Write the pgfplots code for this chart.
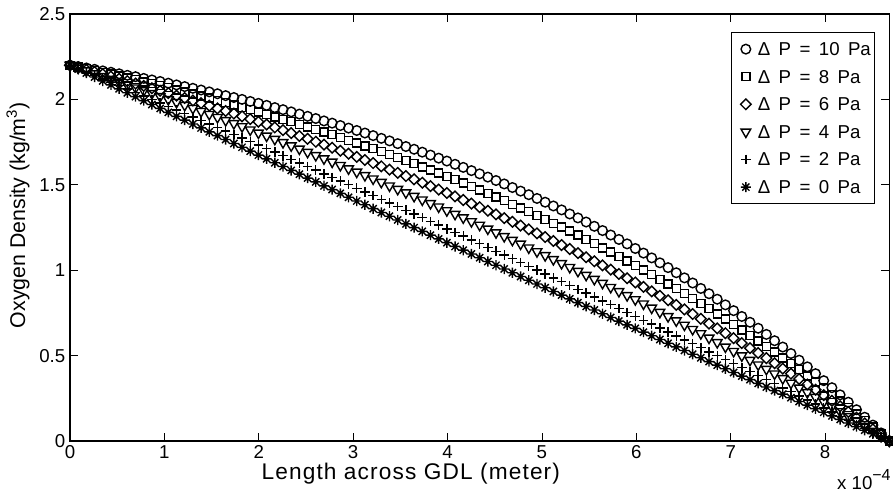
\documentclass[border=0pt]{standalone}
\usepackage{fontspec}
\setmainfont{Liberation Sans}
\usepackage{pgfplots}
\usepackage{pgfplotstable}
\pgfplotsset{compat=1.18}
\pgfdeclareplotmark{mstar}{%
  \pgfpathmoveto{\pgfqpoint{-\pgfplotmarksize}{0pt}}\pgfpathlineto{\pgfqpoint{\pgfplotmarksize}{0pt}}%
  \pgfpathmoveto{\pgfqpoint{0pt}{-\pgfplotmarksize}}\pgfpathlineto{\pgfqpoint{0pt}{\pgfplotmarksize}}%
  \pgfpathmoveto{\pgfqpoint{-.707\pgfplotmarksize}{-.707\pgfplotmarksize}}\pgfpathlineto{\pgfqpoint{.707\pgfplotmarksize}{.707\pgfplotmarksize}}%
  \pgfpathmoveto{\pgfqpoint{-.707\pgfplotmarksize}{.707\pgfplotmarksize}}\pgfpathlineto{\pgfqpoint{.707\pgfplotmarksize}{-.707\pgfplotmarksize}}%
  \pgfusepathqstroke}
\pgfplotstableread{
x c s d t p a
0 2.200 2.200 2.200 2.200 2.200 2.200
0.0868 2.192 2.190 2.187 2.184 2.180 2.177
0.1736 2.184 2.180 2.174 2.168 2.160 2.154
0.2604 2.176 2.169 2.161 2.151 2.140 2.131
0.3472 2.167 2.159 2.148 2.135 2.120 2.108
0.434 2.159 2.148 2.134 2.119 2.100 2.085
0.5208 2.150 2.137 2.121 2.102 2.080 2.062
0.6076 2.141 2.126 2.107 2.085 2.060 2.039
0.6944 2.133 2.115 2.093 2.068 2.040 2.016
0.7812 2.123 2.103 2.079 2.052 2.020 1.993
0.868 2.114 2.092 2.065 2.035 1.999 1.970
0.9548 2.105 2.080 2.051 2.017 1.979 1.947
1.0416 2.095 2.068 2.037 2.000 1.959 1.924
1.1284 2.085 2.056 2.022 1.983 1.938 1.901
1.2152 2.075 2.044 2.008 1.966 1.918 1.879
1.302 2.065 2.032 1.993 1.948 1.897 1.856
1.3888 2.055 2.019 1.978 1.930 1.877 1.833
1.4756 2.044 2.007 1.963 1.913 1.856 1.810
1.5624 2.033 1.994 1.947 1.895 1.836 1.788
1.6492 2.022 1.981 1.932 1.877 1.815 1.765
1.736 2.011 1.967 1.917 1.859 1.794 1.742
1.8228 2.000 1.954 1.901 1.841 1.774 1.720
1.9096 1.988 1.940 1.885 1.822 1.753 1.697
1.9964 1.977 1.926 1.869 1.804 1.732 1.674
2.0832 1.965 1.912 1.853 1.786 1.711 1.652
2.17 1.952 1.898 1.836 1.767 1.691 1.629
2.2568 1.940 1.884 1.820 1.748 1.670 1.607
2.3436 1.927 1.869 1.803 1.729 1.649 1.584
2.4304 1.914 1.854 1.786 1.710 1.628 1.562
2.5172 1.901 1.839 1.769 1.691 1.607 1.539
2.604 1.888 1.824 1.752 1.672 1.586 1.517
2.6908 1.874 1.809 1.735 1.653 1.564 1.494
2.7776 1.861 1.793 1.717 1.634 1.543 1.472
2.8644 1.847 1.777 1.699 1.614 1.522 1.450
2.9512 1.832 1.761 1.682 1.594 1.501 1.427
3.038 1.818 1.745 1.663 1.575 1.480 1.405
3.1248 1.803 1.728 1.645 1.555 1.458 1.383
3.2116 1.788 1.711 1.627 1.535 1.437 1.360
3.2984 1.772 1.694 1.608 1.515 1.415 1.338
3.3852 1.757 1.677 1.589 1.494 1.394 1.316
3.472 1.741 1.659 1.570 1.474 1.372 1.294
3.5588 1.724 1.642 1.551 1.454 1.351 1.271
3.6456 1.708 1.624 1.532 1.433 1.329 1.249
3.7324 1.691 1.605 1.512 1.412 1.308 1.227
3.8192 1.674 1.587 1.492 1.391 1.286 1.205
3.906 1.656 1.568 1.472 1.371 1.264 1.183
3.9928 1.639 1.549 1.452 1.349 1.242 1.161
4.0796 1.620 1.530 1.432 1.328 1.221 1.139
4.1664 1.602 1.510 1.411 1.307 1.199 1.117
4.2532 1.583 1.490 1.390 1.285 1.177 1.095
4.34 1.564 1.470 1.369 1.264 1.155 1.073
4.4268 1.545 1.450 1.348 1.242 1.133 1.051
4.5136 1.525 1.429 1.327 1.220 1.111 1.029
4.6004 1.505 1.408 1.305 1.198 1.089 1.007
4.6872 1.484 1.386 1.283 1.176 1.067 0.985
4.774 1.463 1.365 1.261 1.154 1.045 0.963
4.8608 1.442 1.343 1.239 1.131 1.022 0.941
4.9476 1.420 1.321 1.216 1.109 1.000 0.919
5.0344 1.398 1.298 1.194 1.086 0.978 0.897
5.1212 1.376 1.275 1.171 1.063 0.955 0.875
5.208 1.353 1.252 1.147 1.040 0.933 0.854
5.2948 1.329 1.229 1.124 1.017 0.911 0.832
5.3816 1.306 1.205 1.100 0.994 0.888 0.810
5.4684 1.282 1.181 1.076 0.971 0.866 0.788
5.5552 1.257 1.156 1.052 0.947 0.843 0.767
5.642 1.232 1.131 1.028 0.924 0.820 0.745
5.7288 1.206 1.106 1.003 0.900 0.798 0.723
5.8156 1.180 1.080 0.978 0.876 0.775 0.702
5.9024 1.154 1.054 0.953 0.852 0.752 0.680
5.9892 1.127 1.028 0.928 0.828 0.730 0.659
6.076 1.100 1.001 0.902 0.803 0.707 0.637
6.1628 1.072 0.974 0.876 0.779 0.684 0.616
6.2496 1.043 0.947 0.850 0.754 0.661 0.594
6.3364 1.015 0.919 0.824 0.729 0.638 0.572
6.4232 0.985 0.891 0.797 0.704 0.615 0.551
6.51 0.955 0.862 0.770 0.679 0.592 0.530
6.5968 0.925 0.833 0.743 0.654 0.569 0.508
6.6836 0.893 0.804 0.715 0.629 0.546 0.487
6.7704 0.862 0.774 0.687 0.603 0.522 0.465
6.8572 0.830 0.744 0.659 0.577 0.499 0.444
6.944 0.797 0.713 0.631 0.551 0.476 0.423
7.0308 0.763 0.682 0.602 0.525 0.453 0.401
7.1176 0.729 0.650 0.573 0.499 0.429 0.380
7.2044 0.695 0.618 0.544 0.473 0.406 0.359
7.2912 0.660 0.586 0.515 0.446 0.382 0.337
7.378 0.624 0.553 0.485 0.420 0.359 0.316
7.4648 0.587 0.520 0.455 0.393 0.335 0.295
7.5516 0.550 0.486 0.424 0.366 0.311 0.274
7.6384 0.512 0.452 0.394 0.339 0.288 0.253
7.7252 0.473 0.417 0.363 0.311 0.264 0.231
7.812 0.434 0.381 0.331 0.284 0.240 0.210
7.8988 0.394 0.346 0.300 0.256 0.217 0.189
7.9856 0.353 0.309 0.268 0.229 0.193 0.168
8.0724 0.312 0.273 0.235 0.201 0.169 0.147
8.1592 0.270 0.235 0.203 0.172 0.145 0.126
8.246 0.227 0.197 0.170 0.144 0.121 0.105
8.3328 0.183 0.159 0.136 0.116 0.097 0.084
8.4196 0.139 0.120 0.103 0.087 0.073 0.063
8.5064 0.093 0.081 0.069 0.058 0.048 0.042
8.5932 0.047 0.041 0.035 0.029 0.024 0.021
8.68 0 0 0 0 0 0
}\data
\newcommand\ws{\hspace{0.45em}}
\begin{document}
\begin{tikzpicture}
\begin{axis}[
  scale only axis, width=614.5pt, height=320.25pt,
  xmin=0, xmax=8.68, ymin=0, ymax=2.5,
  xtick={0,1,2,3,4,5,6,7,8}, ytick={0,0.5,1,1.5,2,2.5},
  tick align=inside, tick pos=both, major tick length=6pt,
  axis line style={line width=0.8pt},
  every tick/.style={black, line width=0.6pt},
  tick label style={font=\fontsize{14}{16}\selectfont},
  /pgf/number format/assume math mode=true,
  clip=false,
  xlabel={\addfontfeatures{LetterSpace=5}Length across GDL (meter)},
  ylabel={Oxygen Density (kg/m\textsuperscript{3})},
  label style={font=\fontsize{16}{18}\selectfont},
  xlabel style={at={(axis description cs:0.416,-0.0755)}, anchor=center, font=\fontsize{17}{19}\selectfont},
  ylabel style={at={(axis description cs:-0.0635,0.529)}, anchor=center},
  legend style={at={(axis description cs:1,1)}, anchor=north east,
    xshift=-10.5pt, yshift=-13.5pt, draw=black, line width=0.6pt,
    font=\fontsize{14}{16}\selectfont, inner xsep=1pt, inner ysep=2.2pt,
    row sep=0pt,
    nodes={inner xsep=2pt, inner ysep=5.2pt, text height=10pt, text depth=0.3pt}},
  legend cell align=left,
  legend image code/.code={\path[draw=none,fill=none] (0pt,-1pt) rectangle (16.5pt,1pt);\draw[mark repeat=2,mark phase=2,#1] plot coordinates {(0pt,0pt)(9.5pt,0pt)(16.5pt,0pt)};},
]
\addplot[only marks, black, line width=1.05pt, mark=o, mark size=3.6pt] table[x=x,y=c]{\data};
\addlegendentry{Δ\ws P\ws =\ws 10\ws Pa}
\addplot[only marks, black, line width=1.05pt, mark=square, mark size=3pt] table[x=x,y=s]{\data};
\addlegendentry{Δ\ws P\ws =\ws 8\ws Pa}
\addplot[only marks, black, line width=1.05pt, mark=square, mark size=2.8pt, mark options={rotate=45}] table[x=x,y=d]{\data};
\addlegendentry{Δ\ws P\ws =\ws 6\ws Pa}
\addplot[only marks, black, line width=1.05pt, mark=triangle, mark size=4.2pt, mark options={rotate=180}] table[x=x,y=t]{\data};
\addlegendentry{Δ\ws P\ws =\ws 4\ws Pa}
\addplot[only marks, black, line width=1.05pt, mark=+, mark size=3.6pt] table[x=x,y=p]{\data};
\addlegendentry{Δ\ws P\ws =\ws 2\ws Pa}
\addplot[only marks, black, line width=1.05pt, mark=mstar, mark size=3.8pt] table[x=x,y=a]{\data};
\addlegendentry{Δ\ws P\ws =\ws 0\ws Pa}
\node[anchor=base east, font=\fontsize{14}{16}\selectfont, inner sep=0pt] at (axis description cs:1.002,-0.1148) {x 10\raisebox{0.5em}{\fontsize{12}{14}\selectfont −4}};
\end{axis}
\pgfresetboundingbox
\path[use as bounding box] ([xshift=-52.5pt,yshift=-42pt]current axis.south west) rectangle ([xshift=2.8pt,yshift=10.5pt]current axis.north east);
\end{tikzpicture}
\end{document}
